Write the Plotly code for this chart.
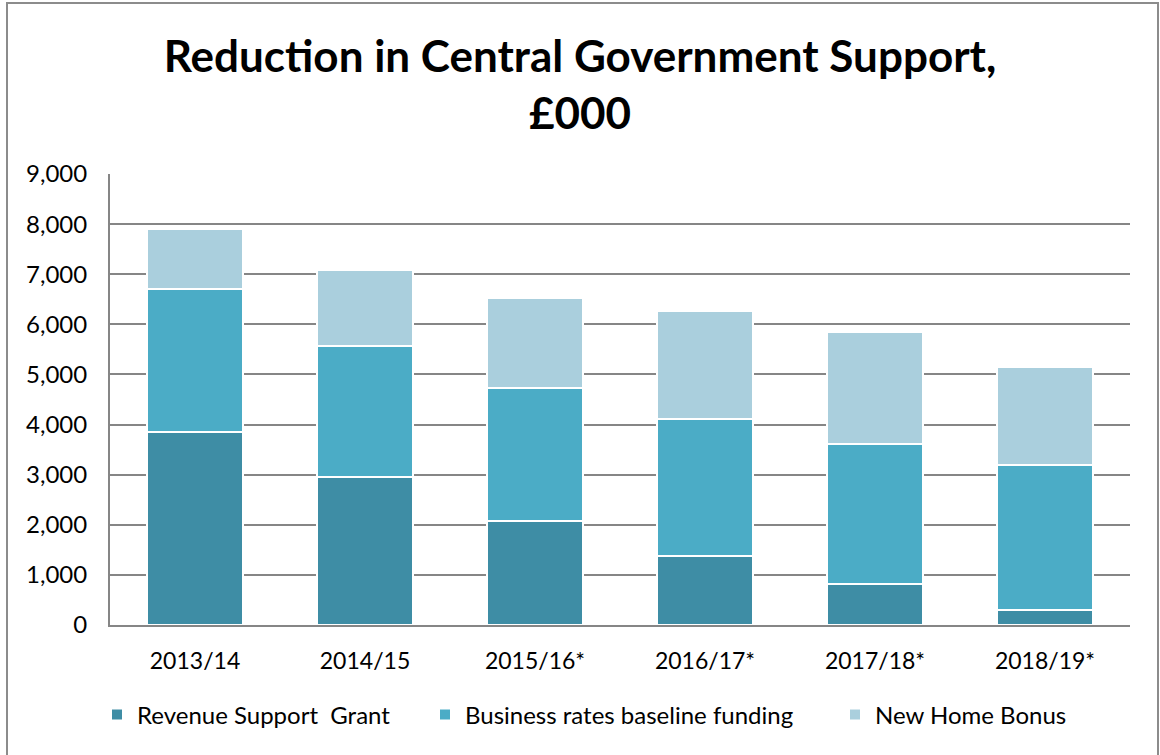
import plotly.graph_objects as go

# Funding components, £000
years = ["2013/14", "2014/15", "2015/16*", "2016/17*", "2017/18*", "2018/19*"]
revenue_support_grant = [3850, 2950, 2070, 1370, 810, 290]
business_rates_baseline = [2860, 2620, 2660, 2740, 2800, 2900]
new_home_bonus = [1200, 1520, 1800, 2160, 2230, 1960]

series_names = ["Revenue Support  Grant", "Business rates baseline funding", "New Home Bonus"]
series_colors = ["#3E8DA5", "#4BACC6", "#AACFDD"]

FONT = "Lato, Carlito, sans-serif"

W, H = 1160, 755
ml, mr, mt, mb = 110, 30, 174, 130
pw, ph = W - ml - mr, H - mt - mb

# each series gets its own legend box so the entries can be spaced freely
legend_ids = ["legend", "legend2", "legend3"]
legend_x = [97, 425, 835]

fig = go.Figure()
for name, vals, col, lid in zip(series_names,
                                [revenue_support_grant, business_rates_baseline, new_home_bonus],
                                series_colors, legend_ids):
    fig.add_trace(go.Bar(
        x=years, y=vals, name=name, legend=lid,
        marker=dict(color=col, line=dict(color="white", width=2)),
    ))

legend_style = dict(font=dict(family=FONT, size=24, color="#000000"),
                    itemwidth=30, bgcolor="rgba(0,0,0,0)",
                    yanchor="middle", xanchor="left")
legends = {}
for lid, lx in zip(legend_ids, legend_x):
    legends[lid] = dict(legend_style, x=(lx - ml) / pw, y=(H - 715 - mb) / ph)

fig.update_layout(
    width=W, height=H,
    barmode="stack",
    bargap=0.43,
    margin=dict(l=ml, r=mr, t=mt, b=mb),
    paper_bgcolor="white",
    plot_bgcolor="white",
    font=dict(family=FONT, size=22, color="#000000"),
    title=dict(
        text="<b>Reduction in Central Government Support,<br>£000</b>",
        x=0.5, xanchor="center", y=0.905, yanchor="top",
        font=dict(family=FONT, size=44, color="#000000"),
    ),
    xaxis=dict(
        showline=True, linecolor="#868686", linewidth=2,
        ticks="", tickfont=dict(size=23), ticklabelstandoff=14,
    ),
    yaxis=dict(
        range=[0, 9000], dtick=1000, tickformat=",d",
        showgrid=True, gridcolor="#868686", gridwidth=2,
        showline=True, linecolor="#868686", linewidth=2,
        ticks="", tickfont=dict(size=24), zeroline=False,
        ticklabelstandoff=16,
    ),
    showlegend=True,
    shapes=[dict(
        type="rect", xref="paper", yref="paper",
        x0=(7 - ml) / pw, x1=(1158 - ml) / pw,
        y0=(H - 760 - mb) / ph, y1=(H - 3 - mb) / ph,
        line=dict(color="#8C8C8C", width=2), fillcolor="rgba(0,0,0,0)", layer="below",
    )],
    **legends,
)

fig.write_html("out.html")
